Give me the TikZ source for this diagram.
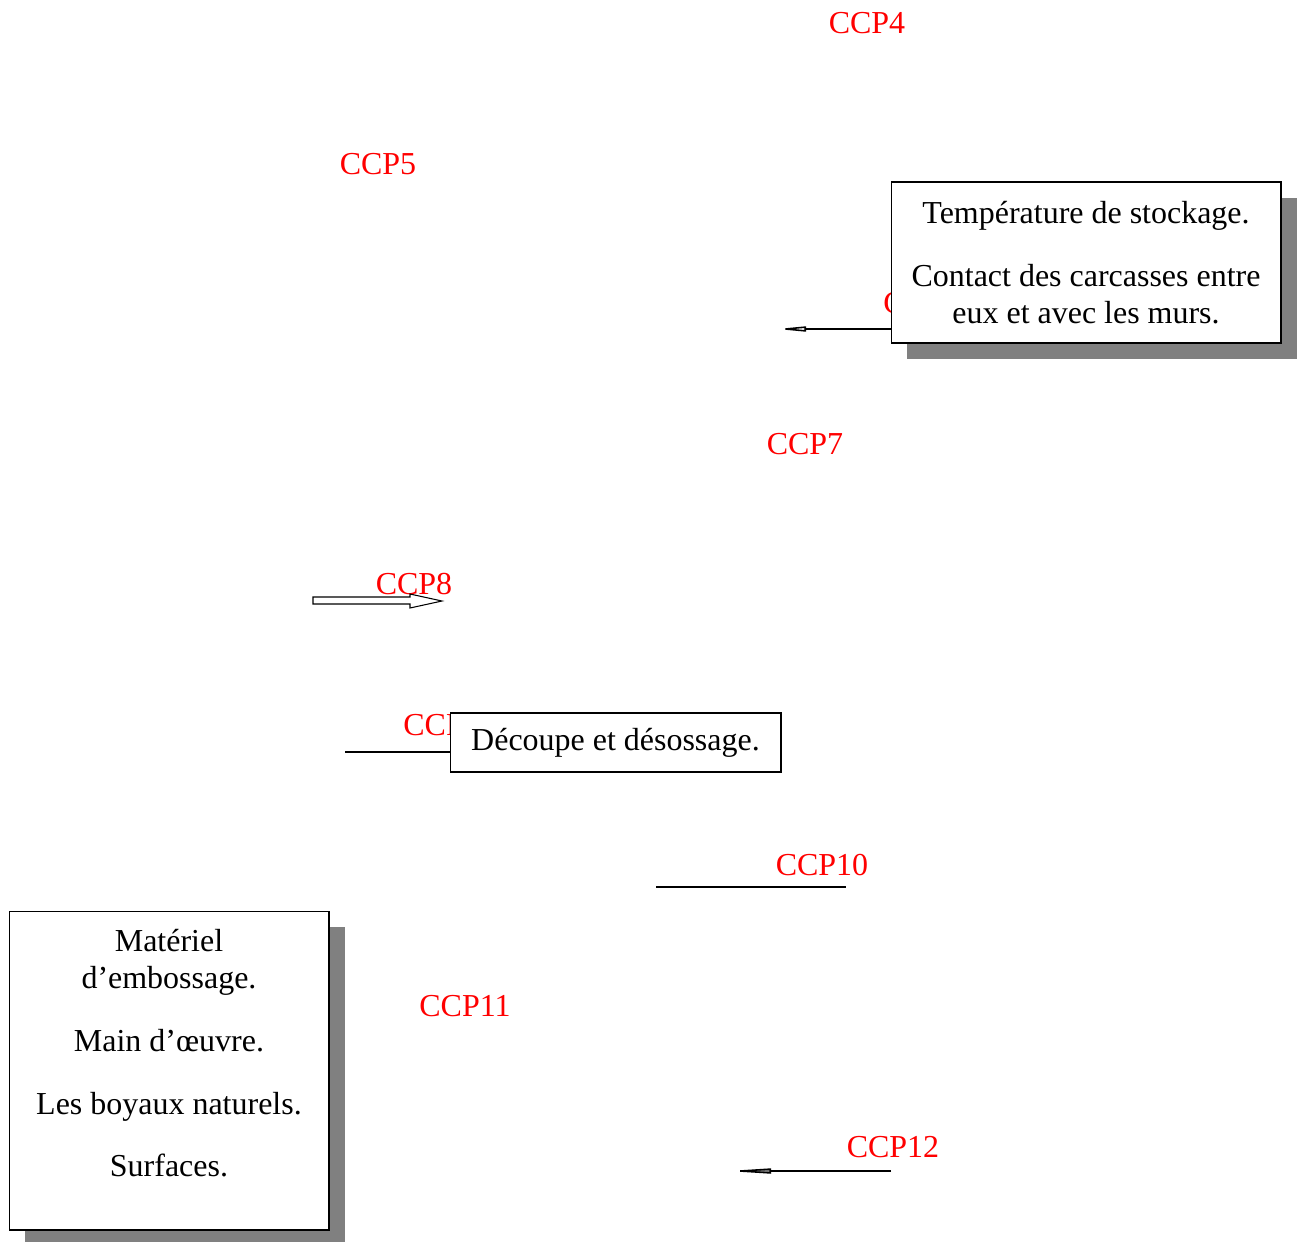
\documentclass[tikz,border=0pt]{standalone}
\usepackage{fontspec}
\setmainfont{Liberation Serif}
\usetikzlibrary{calc}
\usetikzlibrary{shapes}
\usetikzlibrary{shadows}
\usetikzlibrary{arrows.meta}
\tikzset{
  ccp/.style={text=red, inner sep=0pt, font=\fontsize{18.2}{21}\selectfont},
  causebox/.style={draw, fill=white, line width=0.6pt, inner sep=0pt, align=center, font=\fontsize{18.2}{21}\selectfont},
  shadowbox/.style={causebox, drop shadow={shadow xshift=0.32cm, shadow yshift=-0.32cm, fill=black!50, opacity=1}},
  causetxt/.style={inner sep=0pt, align=center, font=\fontsize{18.2}{21}\selectfont},
  link/.style={line width=0.9pt},
}
\newcommand{\ccplab}[4]{\node[ccp, #4] (#1) at ( #2 ) {#3};}

\begin{document}
\begin{tikzpicture}[x=0.02cm, y=-0.02cm]
        \useasboundingbox (0,0) rectangle (1304,1241);
        % red CCP labels
        \ccplab{ccp4}{867,23}{CCP4}{}
        \ccplab{ccp5}{378,164}{CCP5}{}
        \ccplab{ccp6}{883,303}{CCP6}{anchor=west}
        \ccplab{ccp7}{805,444}{CCP7}{}
        \ccplab{ccp8}{414,584}{CCP8}{}
        \ccplab{ccp9}{403,725}{CCP9}{anchor=west}
        \ccplab{ccp10}{822,865}{CCP10}{}
        \ccplab{ccp11}{465,1006}{CCP11}{}
        \ccplab{ccp12}{893,1147}{CCP12}{}
        % boxes
        \node[shadowbox, minimum width=7.8cm, minimum height=3.22cm] (temp) at (1086,262.5)
            {Température de stockage.\\[14.7pt]Contact des carcasses entre\\eux et avec les murs.};
        \node[causebox, minimum width=6.62cm, minimum height=1.18cm] (dec) at (615.5,742.5)
            {Découpe et désossage.};
        \node[shadowbox, minimum width=6.4cm, minimum height=6.38cm] (mat) at (169,1070.5) {};
        \node[causetxt] (mattxt) at ($(mat.center)+(0,-17)$)
            {Matériel\\d’embossage.\\[14.7pt]Main d’œuvre.\\[14.7pt]Les boyaux naturels.\\[14.7pt]Surfaces.};
        % lines
        \coordinate (c6) at (776,329);
        \draw[link, -{Triangle[open, length=0.6cm, width=0.1cm]}] (c6 -| temp.west) -- (c6);
        \draw[line width=0.6pt, fill=white] (313,597) -- (410,597) -- (410,594) -- (442,601)
            -- (410,608) -- (410,604) -- (313,604) -- cycle;
        \coordinate (c9) at (345,752);
        \draw[link] (c9) -- (c9 -| dec.west);
        \coordinate (c10a) at (656,887);
        \coordinate (c10b) at (846,887);
        \draw[link] (c10a) -- (c10b);
        \coordinate (c12a) at (726,1171);
        \coordinate (c12b) at (891,1171);
        \draw[link, -{Triangle[length=0.9cm, width=0.1cm, fill=gray]}] (c12b) -- (c12a);
\end{tikzpicture}
\end{document}
